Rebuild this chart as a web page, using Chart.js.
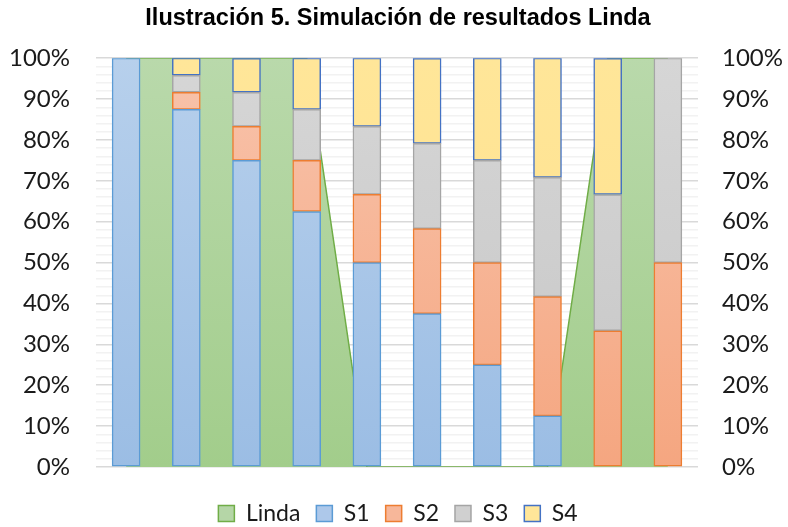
<!DOCTYPE html>
<html>
<head>
<meta charset="utf-8">
<script src="https://cdn.jsdelivr.net/npm/chart.js@4"></script>
<style>
  body { margin: 0; background: #fff; }
  #wrap { width: 788px; height: 527px; }
</style>
</head>
<body>
<div id="wrap"><canvas id="chart-sim"></canvas></div>
<script>
const labels = ['1', '2', '3', '4', '5', '6', '7', '8', '9', '10'];

const linda = [100, 100, 100, 100, 0, 0, 0, 0, 100, 100];
const s1 = [100, 87.5, 75, 62.5, 50, 37.5, 25, 12.5, 0, 0];
const s2 = [0, 4.17, 8.33, 12.5, 16.67, 20.83, 25, 29.17, 33.33, 50];
const s3 = [0, 4.17, 8.33, 12.5, 16.67, 20.83, 25, 29.17, 33.33, 50];
const s4 = [0, 4.17, 8.33, 12.5, 16.67, 20.83, 25, 29.17, 33.33, 0];

const fontName = 'Lato';

function grad(top, bottom, flat) {
  return function (ctx) {
    const area = ctx.chart.chartArea;
    if (!area) return flat;
    const g = ctx.chart.ctx.createLinearGradient(0, area.top, 0, area.bottom);
    g.addColorStop(0, top);
    g.addColorStop(1, bottom);
    return g;
  };
}

function barSet(name, values, top, bottom, border) {
  return {
    type: 'bar',
    label: name,
    data: values,
    backgroundColor: grad(top, bottom, bottom),
    borderColor: border,
    borderWidth: 1.5,
    borderSkipped: false,
    barThickness: 28,
    yAxisID: 'y',
    order: 1
  };
}

const data = {
  labels: labels,
  datasets: [
    {
      type: 'line',
      label: 'Linda',
      data: linda,
      yAxisID: 'y2',
      fill: 'origin',
      backgroundColor: grad('#b9d9ab', '#a2cd8b', '#a9d18e'),
      borderColor: '#70ad47',
      borderWidth: 1.5,
      pointRadius: 0,
      tension: 0,
      order: 2
    },
    barSet('S1', s1, '#b7d0ec', '#9bbde4', '#5b9bd5'),
    barSet('S2', s2, '#f8c3ab', '#f5a680', '#ed7d31'),
    barSet('S3', s3, '#d6d6d6', '#c6c6c6', '#a5a5a5'),
    barSet('S4', s4, '#ffe699', '#ffe08a', '#4472c4')
  ]
};

function gridColor(ctx) {
  return ctx.tick && ctx.tick.value % 10 === 0 ? '#d9d9d9' : '#f2f2f2';
}

function pctLabel(v) {
  return v % 10 === 0 ? v + '%' : '';
}

const config = {
  data: data,
  options: {
    responsive: true,
    maintainAspectRatio: false,
    animation: false,
    layout: { padding: { left: 8, right: 0, top: 0, bottom: -8 } },
    scales: {
      x: {
        stacked: true,
        grid: { display: false },
        border: { display: false },
        ticks: { display: false },
        afterFit: s => { s.height = 19; }
      },
      y: {
        stacked: true,
        min: 0,
        max: 100,
        position: 'left',
        border: { display: false },
        grid: { color: gridColor, lineWidth: 1.5, drawTicks: false },
        ticks: {
          stepSize: 2,
          autoSkip: false,
          padding: 26,
          color: '#1a1a1a',
          font: { family: fontName, size: 24 },
          callback: pctLabel
        },
        afterFit: s => { s.width = 88; }
      },
      y2: {
        stacked: false,
        min: 0,
        max: 100,
        position: 'right',
        border: { display: false },
        grid: { display: false, drawTicks: false },
        ticks: {
          stepSize: 10,
          autoSkip: false,
          padding: 24,
          color: '#1a1a1a',
          font: { family: fontName, size: 24 },
          callback: pctLabel
        },
        afterFit: s => { s.width = 90; }
      }
    },
    plugins: {
      title: {
        display: true,
        text: 'Ilustración 5. Simulación de resultados Linda',
        color: '#000',
        font: { family: 'Liberation Sans', size: 23.5, weight: 'bold' },
        padding: { top: 4, bottom: 26 }
      },
      legend: {
        position: 'bottom',
        labels: {
          sort: (a, b) => a.datasetIndex - b.datasetIndex,
          boxWidth: 16,
          boxHeight: 16,
          padding: 16,
          color: '#1a1a1a',
          font: { family: fontName, size: 23 },
          generateLabels: function (chart) {
            const items = Chart.defaults.plugins.legend.labels.generateLabels(chart);
            const fills = ['#b5d6a7', '#adc8ea', '#f7b79a', '#d0d0d0', '#ffe699'];
            items.forEach(it => {
              it.fillStyle = fills[it.datasetIndex];
              it.lineWidth = 1.5;
            });
            return items;
          }
        }
      },
      tooltip: { enabled: false }
    }
  }
};

const chartSim = new Chart(
  document.getElementById('chart-sim'),
  config
);
</script>
</body>
</html>
